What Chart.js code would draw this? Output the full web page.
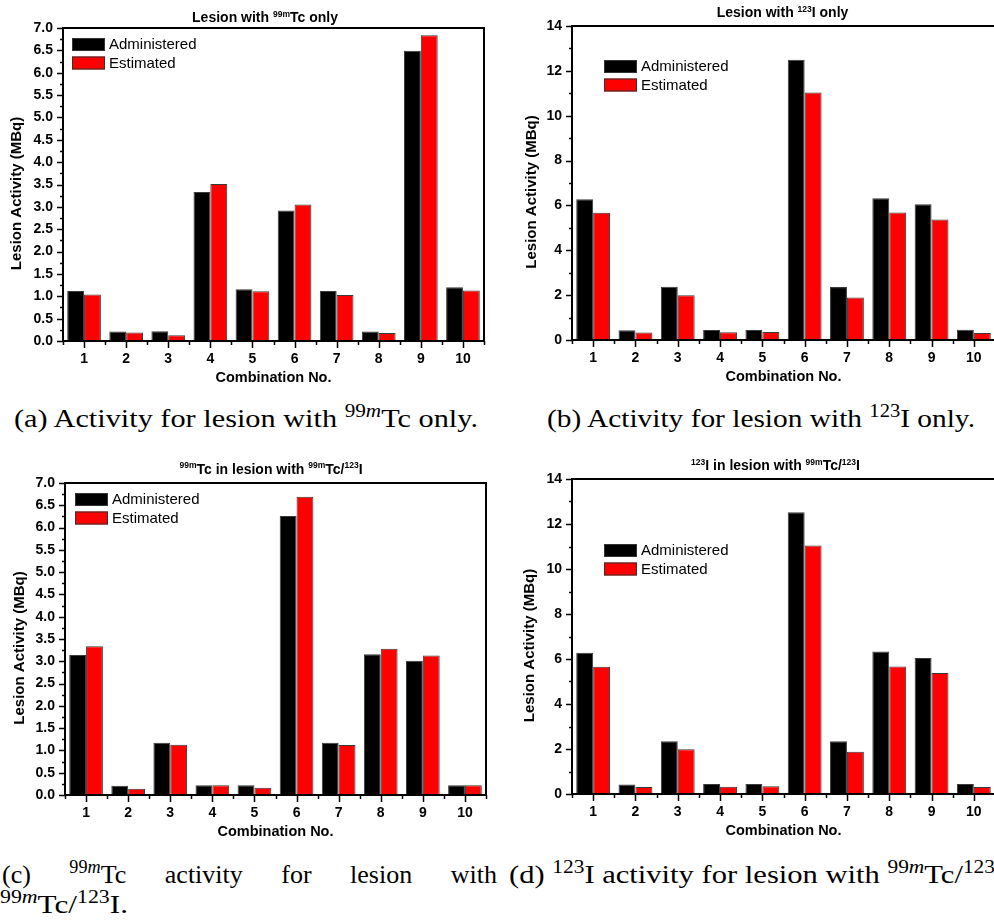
<!DOCTYPE html>
<html>
<head>
<meta charset="utf-8">
<script src="https://cdn.jsdelivr.net/npm/chart.js@4.4.0/dist/chart.umd.min.js"></script>
<style>
  html, body { margin: 0; padding: 0; background: #fff; }
  body { width: 994px; height: 921px; overflow: hidden; position: relative; }
  canvas.panel { position: absolute; }
  .cap { position: absolute; font-family: "Liberation Serif", "DejaVu Serif", serif; font-size: 26px;
         color: #000; white-space: nowrap; line-height: 1; transform-origin: 0 0; }
  .cap sup { font-size: 0.7em; vertical-align: 0; position: relative; top: -0.55em; line-height: 0; }
</style>
</head>
<body>
<canvas class="panel" id="chartA" width="497" height="390" style="left:0;top:0"></canvas>
<canvas class="panel" id="chartB" width="496" height="390" style="left:500px;top:0"></canvas>
<canvas class="panel" id="chartC" width="497" height="390" style="left:0;top:450px"></canvas>
<canvas class="panel" id="chartD" width="496" height="390" style="left:500px;top:450px"></canvas>

<div class="cap fit" data-w="464" style="left:14px;top:406px">(a) Activity for lesion with <sup>99<i>m</i></sup>Tc only.</div>
<div class="cap fit" data-w="428" style="left:547px;top:406px">(b) Activity for lesion with <sup>123</sup>I only.</div>
<div class="cap" style="left:2px;top:862px;width:495px;display:flex;justify-content:space-between">
  <span>(c)</span><span><sup>99<i>m</i></sup>Tc</span><span>activity</span><span>for</span><span>lesion</span><span>with</span>
</div>
<div class="cap fit" data-w="128" style="left:0;top:892px"><sup>99<i>m</i></sup>Tc/<sup>123</sup>I.</div>
<div class="cap fit" data-w="486" style="left:509px;top:862px">(d) <sup>123</sup>I activity for lesion with <sup>99<i>m</i></sup>Tc/<sup>123</sup></div>

<script>
// Combination numbers on the x axis
const combos = ['1', '2', '3', '4', '5', '6', '7', '8', '9', '10'];
const seriesNames = ['Administered', 'Estimated'];

// (a) lesion with 99mTc only (MBq)
const tcOnlyAdministered = [1.12, 0.21, 0.22, 3.33, 1.16, 2.92, 1.12, 0.21, 6.49, 1.20];
const tcOnlyEstimated    = [1.04, 0.19, 0.13, 3.51, 1.11, 3.05, 1.03, 0.18, 6.84, 1.13];

// (b) lesion with 123I only (MBq)
const iOnlyAdministered = [6.28, 0.43, 2.37, 0.45, 0.45, 12.50, 2.36, 6.32, 6.05, 0.46];
const iOnlyEstimated    = [5.67, 0.33, 2.00, 0.34, 0.36, 11.03, 1.90, 5.69, 5.37, 0.31];

// (c) 99mTc in dual-isotope lesion (MBq)
const tcDualAdministered = [3.14, 0.21, 1.17, 0.22, 0.22, 6.26, 1.17, 3.16, 3.01, 0.22];
const tcDualEstimated    = [3.34, 0.14, 1.13, 0.22, 0.16, 6.69, 1.12, 3.28, 3.13, 0.22];

// (d) 123I in dual-isotope lesion (MBq)
const iDualAdministered = [6.28, 0.42, 2.35, 0.44, 0.44, 12.52, 2.35, 6.33, 6.04, 0.45];
const iDualEstimated    = [5.66, 0.31, 1.99, 0.32, 0.34, 11.04, 1.88, 5.67, 5.38, 0.31];

// Panel titles: [text, isSuperscript]
const titleA = [['Lesion with ', false], ['99m', true], ['Tc only', false]];
const titleB = [['Lesion with ', false], ['123', true], ['I only', false]];
const titleC = [['99m', true], ['Tc in lesion with ', false], ['99m', true], ['Tc/', false], ['123', true], ['I', false]];
const titleD = [['123', true], ['I in lesion with ', false], ['99m', true], ['Tc/', false], ['123', true], ['I', false]];

const xAxisTitle = 'Combination No.';
const yAxisTitle = 'Lesion Activity (MBq)';

const SANS = '"Liberation Sans", Arial, Helvetica, sans-serif';

// Frame, tick marks, legend and titles drawn around the chart area
const decor = {
  id: 'decor',
  afterDraw(chart, args, o) {
    const { ctx, chartArea: a, scales: { x, y } } = chart;
    ctx.save();
    ctx.strokeStyle = '#000';
    ctx.fillStyle = '#000';

    // Box frame
    ctx.lineWidth = 2;
    ctx.strokeRect(a.left, a.top, a.right - a.left, a.bottom - a.top);

    // Y ticks (major at labels, minor halfway)
    ctx.lineWidth = 1.5;
    ctx.beginPath();
    const nMinor = Math.round((y.max - y.min) / o.minorStep);
    for (let k = 0; k <= nMinor; k++) {
      const v = y.min + k * o.minorStep;
      const py = Math.round(y.getPixelForValue(v)) + 0.5;
      const major = k % 2 === 0;
      ctx.moveTo(a.left, py);
      ctx.lineTo(a.left - (major ? 6 : 3), py);
    }
    // X ticks (major at categories, minor at boundaries)
    const n = chart.data.labels.length;
    for (let i = 0; i < n; i++) {
      const px = Math.round(x.getPixelForValue(i)) + 0.5;
      ctx.moveTo(px, a.bottom);
      ctx.lineTo(px, a.bottom + 7);
    }
    for (let i = 0; i <= n; i++) {
      const px = Math.round(x.getPixelForValue(i - 0.5)) + 0.5;
      ctx.moveTo(px, a.bottom);
      ctx.lineTo(px, a.bottom + 4);
    }
    ctx.stroke();

    // Legend
    ctx.font = '15px ' + SANS;
    ctx.textBaseline = 'middle';
    ctx.textAlign = 'left';
    chart.data.datasets.forEach((ds, i) => {
      const bx = a.left + o.legendDx;
      const by = a.top + o.legendDy + i * 18.5;
      ctx.fillStyle = ds.backgroundColor;
      ctx.fillRect(bx, by, 33, 13);
      ctx.lineWidth = 1;
      ctx.strokeStyle = '#333';
      ctx.strokeRect(bx + 0.5, by + 0.5, 32, 12);
      ctx.fillStyle = '#000';
      ctx.fillText(ds.label, bx + 37, by + 7);
    });

    // Panel title with superscripts
    const mainFont = 'bold 14px ' + SANS;
    const supFont = 'bold 8.5px ' + SANS;
    let w = 0;
    o.title.forEach(([t, sup]) => { ctx.font = sup ? supFont : mainFont; w += ctx.measureText(t).width; });
    let tx = o.titleX - w / 2;
    ctx.textBaseline = 'alphabetic';
    o.title.forEach(([t, sup]) => {
      ctx.font = sup ? supFont : mainFont;
      ctx.fillText(t, tx, sup ? o.titleY - 5.5 : o.titleY);
      tx += ctx.measureText(t).width;
    });

    // Axis titles
    ctx.font = 'bold 14.5px ' + SANS;
    ctx.textAlign = 'center';
    ctx.textBaseline = 'middle';
    ctx.fillText(o.xTitle, (a.left + a.right) / 2, a.bottom + 37);
    ctx.save();
    ctx.translate(a.left + o.yTitleDx, (a.top + a.bottom) / 2 + 9);
    ctx.rotate(-Math.PI / 2);
    ctx.font = 'bold 15px ' + SANS;
    ctx.fillText(o.yTitle, 0, 0);
    ctx.restore();

    ctx.restore();
  }
};

function makePanel(id, p) {
  const tickFont = { family: SANS, size: 14, weight: 'bold' };
  return new Chart(document.getElementById(id), {
    type: 'bar',
    data: {
      labels: combos,
      datasets: [
        { label: seriesNames[0], data: p.administered, backgroundColor: '#000000',
          borderColor: '#3a3a3a', borderWidth: 1, borderSkipped: false },
        { label: seriesNames[1], data: p.estimated, backgroundColor: '#ff0000',
          borderColor: '#3a3a3a', borderWidth: 1, borderSkipped: false }
      ]
    },
    options: {
      responsive: false,
      animation: false,
      devicePixelRatio: 1,
      layout: { padding: { left: 0, top: p.top, right: p.right, bottom: 0 } },
      datasets: { bar: { categoryPercentage: 0.8, barPercentage: 1.0 } },
      plugins: {
        legend: { display: false },
        tooltip: { enabled: false },
        title: { display: false },
        decor: {
          minorStep: p.step / 2,
          legendDx: p.legendDx, legendDy: p.legendDy,
          title: p.title, titleX: p.titleX, titleY: p.titleY,
          xTitle: xAxisTitle, yTitle: yAxisTitle, yTitleDx: p.yTitleDx
        }
      },
      scales: {
        x: {
          type: 'category',
          offset: true,
          grid: { display: false, drawTicks: false },
          border: { display: false },
          ticks: { color: '#000', font: tickFont, padding: 10, maxRotation: 0, autoSkip: false },
          afterFit: s => { s.height = p.xH; }
        },
        y: {
          min: 0, max: p.max,
          grid: { display: false, drawTicks: false },
          border: { display: false },
          ticks: { stepSize: p.step, color: '#000', font: tickFont, padding: 10,
                   callback: v => p.decimals ? Number(v).toFixed(p.decimals) : String(v) },
          afterFit: s => { s.width = p.yW; }
        }
      }
    },
    plugins: [decor]
  });
}

makePanel('chartA', {
  administered: tcOnlyAdministered, estimated: tcOnlyEstimated,
  max: 7, step: 0.5, decimals: 1,
  top: 28, right: 13, yW: 63, xH: 49,
  legendDx: 9, legendDy: 10,
  title: titleA, titleX: 265, titleY: 22, yTitleDx: -46
});
makePanel('chartB', {
  administered: iOnlyAdministered, estimated: iOnlyEstimated,
  max: 14, step: 2, decimals: 0,
  top: 26, right: 1, yW: 72, xH: 50,
  legendDx: 32, legendDy: 34,
  title: titleB, titleX: 282.5, titleY: 17, yTitleDx: -40
});
makePanel('chartC', {
  administered: tcDualAdministered, estimated: tcDualEstimated,
  max: 7, step: 0.5, decimals: 1,
  top: 33, right: 11, yW: 65, xH: 45,
  legendDx: 10, legendDy: 10,
  title: titleC, titleX: 271, titleY: 23.5, yTitleDx: -45
});
makePanel('chartD', {
  administered: iDualAdministered, estimated: iDualEstimated,
  max: 14, step: 2, decimals: 0,
  top: 29, right: 1, yW: 72, xH: 46,
  legendDx: 32, legendDy: 65,
  title: titleD, titleX: 275.5, titleY: 20, yTitleDx: -42
});

// Stretch captions horizontally to their set widths
document.querySelectorAll('.cap.fit').forEach(el => {
  const w = el.getBoundingClientRect().width;
  const target = Number(el.dataset.w);
  if (w > 0) el.style.transform = 'scaleX(' + (target / w).toFixed(4) + ')';
});
</script>
</body>
</html>
